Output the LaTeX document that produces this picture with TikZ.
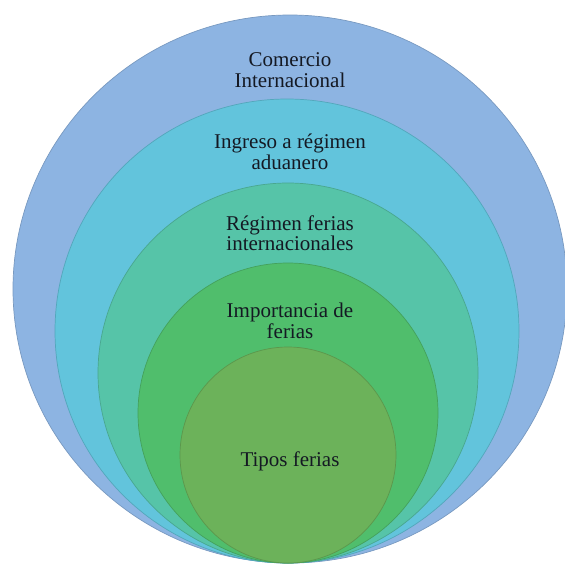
\documentclass[tikz,border=0pt]{standalone}
\usepackage{fontspec}
\usetikzlibrary{shapes.geometric}
\setmainfont{Liberation Serif}
\definecolor{cA}{RGB}{141,180,226}
\definecolor{cB}{RGB}{98,196,220}
\definecolor{cC}{RGB}{86,196,168}
\definecolor{cD}{RGB}{80,190,108}
\definecolor{cE}{RGB}{108,178,90}
\definecolor{txt}{RGB}{20,25,35}
\tikzset{
  ring/.style={circle, inner sep=0pt, minimum size=#1, line width=0.7pt},
  lbl/.style={align=center, text=txt, font=\fontsize{21}{20.5}\selectfont}
}
\begin{document}
\begin{tikzpicture}[x=1pt,y=-1pt]
\useasboundingbox (0,0) rectangle (565,565);
\node[ellipse, inner sep=0pt, minimum width=554pt, minimum height=548pt, line width=0.7pt, fill=cA, draw=cA!85!black] (c1) at (290,289) {};
\node[ring=464pt, fill=cB, draw=cB!85!black] (c2) at (287,331) {};
\node[ring=380pt, fill=cC, draw=cC!85!black] (c3) at (288,373) {};
\node[ring=300pt, fill=cD, draw=cD!85!black] (c4) at (288,413) {};
\node[ring=216pt, fill=cE, draw=cE!85!black] (c5) at (288,455) {};
\node[lbl] (t1) at (290,70) {Comercio\\Internacional};
\node[lbl] (t2) at (290,152) {Ingreso a régimen\\aduanero};
\node[lbl] (t3) at (290,233) {Régimen ferias\\internacionales};
\node[lbl] (t4) at (290,321) {Importancia de\\ferias};
\node[lbl] (t5) at (290,461) {Tipos ferias};
\end{tikzpicture}
\end{document}
